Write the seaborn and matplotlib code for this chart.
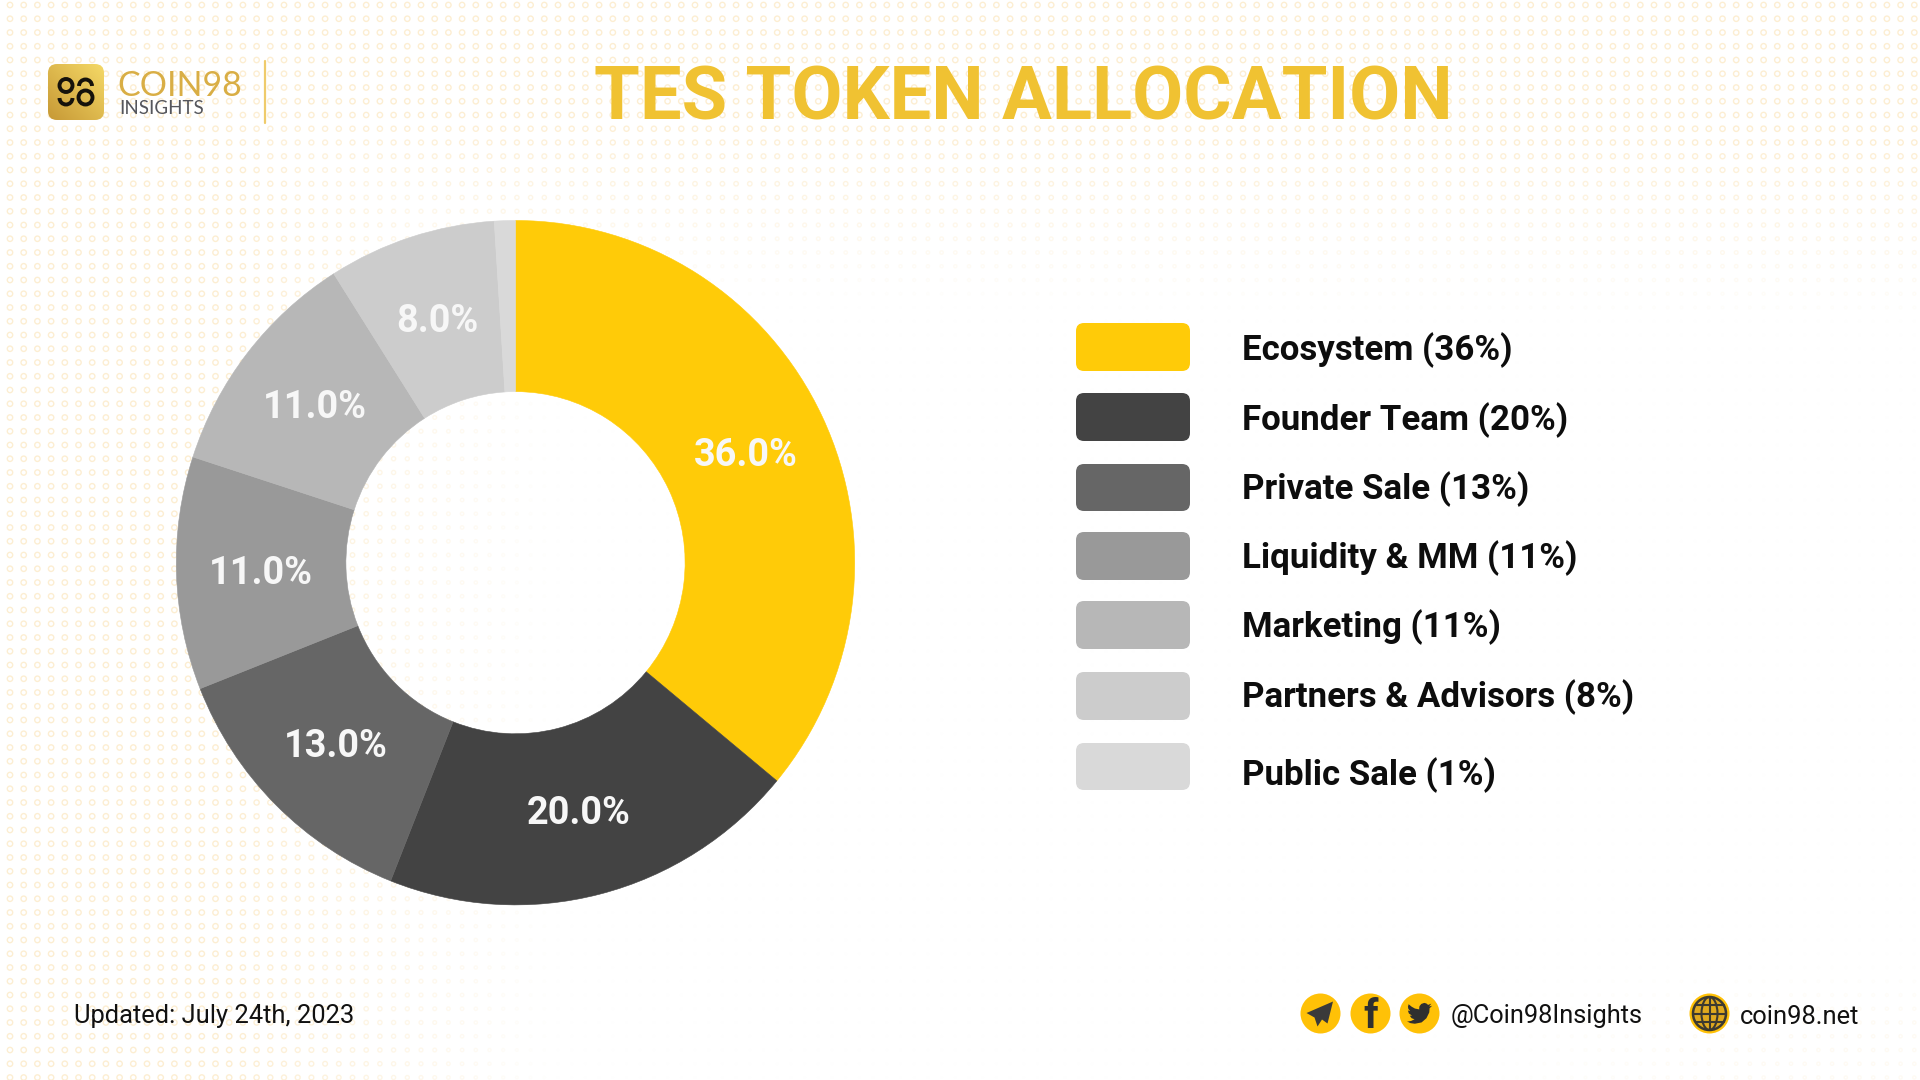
import numpy as np
import seaborn as sns
from matplotlib import pyplot as plt
from matplotlib.patches import Arc, Circle, Ellipse, FancyBboxPatch, Polygon

# chart values
categories = ['Ecosystem', 'Founder Team', 'Private Sale', 'Liquidity & MM',
              'Marketing', 'Partners & Advisors', 'Public Sale']
shares = [36, 20, 13, 11, 11, 8, 1]
legend_labels = ['Ecosystem (36%)', 'Founder Team (20%)', 'Private Sale (13%)',
                 'Liquidity & MM (11%)', 'Marketing (11%)',
                 'Partners & Advisors (8%)', 'Public Sale (1%)']
slice_colors = ['#FFCB08', '#434343', '#666666', '#999999', '#B7B7B7', '#CCCCCC', '#D9D9D9']

# legend rows in picture pixels: swatch top, swatch bottom, text centre
swatch_top = [323, 393, 464, 532, 601, 672, 743]
swatch_bottom = [371, 441, 511, 580, 649, 720, 790]
legend_text_y = [346, 416, 485, 554, 623, 693, 771]

BIRD = [(24, 4.6), (21.1, 5.35), (23.3, 2.6), (20.2, 3.8), (18.5, 2.4), (16.5, 1.9), (13.7, 2.9),
        (12, 5), (11.7, 7), (11.8, 8.1), (7.7, 7.3), (4.5, 5.5), (1.64, 3.16), (1, 5.6), (1.4, 7.7),
        (3.16, 9.73), (0.93, 9.12), (1.9, 12), (4.88, 14), (2.67, 14.08), (4.5, 16.5), (7.27, 17.5),
        (4, 19.1), (1.17, 19.6), (0, 19.54), (3.5, 21.2), (7.56, 21.75), (14, 20.5), (18.6, 16.5),
        (21.3, 11), (21.55, 7.76), (21.54, 7.13)]
PLANE = [(12.5, -12), (-14, -0.5), (-6, 4), (-3, 13), (1.5, 6), (7, 10)]

W, H = 1920, 1080
sns.set_theme(style='white')
plt.rcParams['font.family'] = ['Roboto', 'DejaVu Sans']
palette = sns.color_palette(slice_colors)

fig = plt.figure(figsize=(19.2, 10.8), dpi=100, facecolor='white')

# dotted background, strongest along the top and left edges
bg = fig.add_axes([0, 0, 1, 1], zorder=0)
bg.set_xlim(0, W)
bg.set_ylim(H, 0)
bg.axis('off')
gx, gy = np.meshgrid(np.arange(10, W, 13.7), np.arange(5, H, 13.75))
gx, gy = gx.ravel(), gy.ravel()
strength = np.maximum(np.clip((560 - gx) / 330, 0, 1), np.clip((290 - gy + gx * 0.02) / 190, 0, 1))
strength = np.maximum(strength, 0.25 * np.clip((gx - 1450) / 300, 0, 1) * np.clip((gy - 960) / 60, 0, 1))
dot_rgba = np.zeros((gx.size, 4))
dot_rgba[:, :3] = (0.985, 0.88, 0.68)
dot_rgba[:, 3] = np.clip(strength, 0.02, 1) * 0.55
bg.scatter(gx, gy, s=2 + 13 * strength, facecolors='none', edgecolors=dot_rgba, linewidths=1.0)

# donut
cx, cy, rx, ry = 515.5, 562.7, 339.2, 342.2
ax = fig.add_axes([(cx - rx) / W, 1 - (cy + ry) / H, 2 * rx / W, 2 * ry / H], zorder=1)
wedges, texts, autotexts = ax.pie(
    shares, colors=palette, startangle=90, counterclock=False, radius=1,
    pctdistance=0.75, autopct=lambda p: f'{p:.1f}%' if p > 2 else '',
    wedgeprops={'width': 0.5, 'linewidth': 0.4},
    textprops={'color': '#F7F7F7', 'fontsize': 27.3, 'fontweight': 'bold', 'family': 'Roboto'})
for w in wedges:
    w.set_edgecolor(w.get_facecolor())
for t in autotexts:
    lx, ly = t.get_position()
    t.set_position((lx, ly - 0.007))
ax.set_aspect('auto')
ax.set_xlim(-1, 1)
ax.set_ylim(-1, 1)
ax.patch.set_alpha(0)

# everything else sits on a top layer in picture pixels
top = fig.add_axes([0, 0, 1, 1], zorder=2)
top.set_xlim(0, W)
top.set_ylim(H, 0)
top.axis('off')
top.patch.set_alpha(0)

top.text(1023.5, 92, 'TES TOKEN ALLOCATION', color='#F0C232', fontsize=53.3, fontweight='bold',
         ha='center', va='center_baseline')

# legend
for i, label in enumerate(legend_labels):
    top.add_patch(FancyBboxPatch((1076, swatch_top[i]), 114, swatch_bottom[i] - swatch_top[i],
                                 boxstyle='round,pad=0,rounding_size=8', facecolor=palette[i], edgecolor='none'))
    top.text(1241.5, legend_text_y[i], label, color='#0D0D0D', fontsize=25.1, fontweight='bold',
             ha='left', va='center_baseline')

# logo
logo_box = FancyBboxPatch((48, 64), 56, 56, boxstyle='round,pad=0,rounding_size=9', facecolor='none', edgecolor='none')
top.add_patch(logo_box)
ramp = np.add.outer(np.linspace(1, 0, 60), np.linspace(0, 1, 60)) / 2
ramp_rgb = np.array([0.78, 0.60, 0.21]) + ramp[..., None] * (np.array([0.96, 0.85, 0.40]) - np.array([0.78, 0.60, 0.21]))
img = top.imshow(ramp_rgb, extent=(48, 104, 120, 64), aspect='auto', zorder=2)
img.set_clip_path(logo_box)
top.set_xlim(0, W)
top.set_ylim(H, 0)
ink = '#15120B'
top.add_patch(Circle((66, 85.5), 6.5, fill=False, edgecolor=ink, linewidth=2.8, zorder=3))
top.add_patch(Circle((85.5, 97.5), 7, fill=False, edgecolor=ink, linewidth=2.8, zorder=3))
top.add_patch(Arc((85.5, 86), 13, 13, theta1=180, theta2=360, edgecolor=ink, linewidth=2.8, zorder=3))
top.add_patch(Arc((66, 98), 13, 13, theta1=0, theta2=180, edgecolor=ink, linewidth=2.8, zorder=3))
top.text(117, 83, 'COIN98', color='#D9AE45', fontsize=24.5, family='Lato',
         ha='left', va='center_baseline')
top.text(119, 107, 'INSIGHTS', color='#55565C', fontsize=13.5, family='Lato', ha='left', va='center_baseline')
top.plot([265, 265], [61, 123], color='#EFCB6B', linewidth=1.6)

# footer
top.text(73.5, 1014, 'Updated: July 24th, 2023', color='#111111', fontsize=18.4, ha='left', va='center_baseline')
top.text(1451, 1014, '@Coin98Insights', color='#111111', fontsize=18.3, ha='left', va='center_baseline')
top.text(1740, 1014, 'coin98.net', color='#111111', fontsize=18.4, ha='left', va='center_baseline')

yellow = '#FFC107'
dark = '#2F2F2F'
for x in (1320.5, 1370.5, 1419.5, 1709.5):
    top.add_patch(Circle((x, 1013.5), 20, facecolor=yellow, edgecolor='none'))
top.add_patch(Polygon([(1320.5 + dx, 1013.5 + dy) for dx, dy in PLANE], closed=True, facecolor='#3A3A3A', edgecolor='none'))
top.text(1370.5, 1017, 'f', color=dark, fontsize=29, fontweight='bold', ha='center', va='center')
top.add_patch(Polygon([(1419.5 + (bx - 12) * 1.05, 1013.5 + (by - 12) * 1.05) for bx, by in BIRD],
                      closed=True, facecolor=dark, edgecolor='none'))

# globe
gc = (1709.5, 1013.5)
top.add_patch(Circle(gc, 16.5, facecolor='#E0A91E', edgecolor='#3D3A30', linewidth=1.8))
top.add_patch(Ellipse(gc, 16, 33, fill=False, edgecolor='#3D3A30', linewidth=1.5))
top.plot([gc[0], gc[0]], [gc[1] - 16.5, gc[1] + 16.5], color='#3D3A30', linewidth=1.5)
for dy, half in ((-8.5, 14), (0, 16.5), (8.5, 14)):
    top.plot([gc[0] - half, gc[0] + half], [gc[1] + dy, gc[1] + dy], color='#3D3A30', linewidth=1.5)

fig.savefig('out.png', dpi=100, facecolor='white')
